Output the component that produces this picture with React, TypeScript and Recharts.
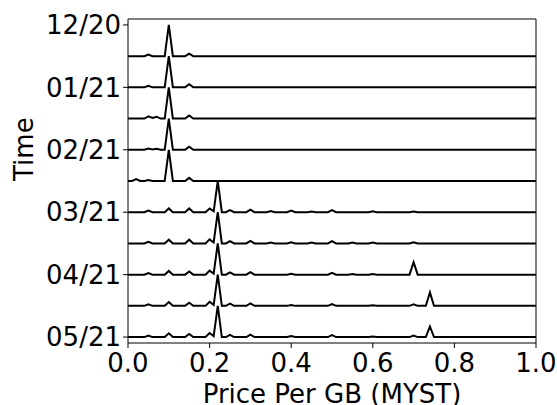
import {
  LineChart,
  Line,
  XAxis,
  YAxis,
  ReferenceArea,
} from "recharts";

// price-per-GB density curves, one per half month, newest last.
// each point is [price (MYST), relative density], peak normalised to 1
const month1a: [number, number][] = [
  [0, 0], [0.04, 0], [0.05, 0.05], [0.06, 0], [0.09, 0], [0.1, 1.0],
  [0.11, 0], [0.14, 0], [0.15, 0.08], [0.16, 0], [1, 0],
];
const month1b: [number, number][] = [
  [0, 0], [0.04, 0], [0.05, 0.05], [0.06, 0], [0.09, 0], [0.1, 1.0],
  [0.11, 0], [0.14, 0], [0.15, 0.1], [0.16, 0], [1, 0],
];
const month2a: [number, number][] = [
  [0, 0], [0.04, 0], [0.05, 0.07], [0.06, 0.02], [0.07, 0.06], [0.08, 0],
  [0.09, 0], [0.1, 1.0], [0.11, 0], [0.14, 0], [0.15, 0.1], [0.16, 0], [1, 0],
];
const month2b: [number, number][] = [
  [0, 0], [0.04, 0], [0.05, 0.04], [0.06, 0.01], [0.07, 0.03], [0.08, 0],
  [0.09, 0], [0.1, 1.0], [0.11, 0], [0.14, 0], [0.15, 0.1], [0.16, 0], [1, 0],
];
const month3a: [number, number][] = [
  [0, 0], [0.01, 0], [0.02, 0.06], [0.03, 0], [0.04, 0], [0.05, 0.03],
  [0.06, 0], [0.09, 0], [0.1, 1.0], [0.11, 0], [0.14, 0], [0.15, 0.1],
  [0.16, 0], [1, 0],
];
const month3b: [number, number][] = [
  [0, 0], [0.04, 0], [0.05, 0.05], [0.06, 0], [0.09, 0], [0.1, 0.12],
  [0.11, 0], [0.14, 0], [0.15, 0.12], [0.16, 0], [0.19, 0], [0.2, 0.12],
  [0.21, 0.03], [0.22, 1.0], [0.23, 0], [0.24, 0], [0.25, 0.07], [0.26, 0],
  [0.29, 0], [0.3, 0.08], [0.31, 0], [0.34, 0], [0.35, 0.04], [0.36, 0],
  [0.39, 0], [0.4, 0.05], [0.41, 0], [0.44, 0], [0.45, 0.02], [0.46, 0],
  [0.49, 0], [0.5, 0.07], [0.51, 0], [0.59, 0], [0.6, 0.03], [0.61, 0],
  [0.69, 0], [0.7, 0.02], [0.71, 0], [1, 0],
];
const month4a: [number, number][] = [
  [0, 0], [0.04, 0], [0.05, 0.05], [0.06, 0], [0.09, 0], [0.1, 0.12],
  [0.11, 0], [0.14, 0], [0.15, 0.12], [0.16, 0], [0.19, 0], [0.2, 0.13],
  [0.21, 0.03], [0.22, 1.0], [0.23, 0], [0.24, 0], [0.25, 0.07], [0.26, 0],
  [0.29, 0], [0.3, 0.08], [0.31, 0], [0.34, 0], [0.35, 0.03], [0.36, 0],
  [0.39, 0], [0.4, 0.04], [0.41, 0], [0.44, 0], [0.45, 0.03], [0.46, 0],
  [0.49, 0], [0.5, 0.07], [0.51, 0], [0.54, 0], [0.55, 0.03], [0.56, 0],
  [0.59, 0], [0.6, 0.03], [0.61, 0], [0.69, 0], [0.7, 0.04], [0.71, 0],
  [1, 0],
];
const month4b: [number, number][] = [
  [0, 0], [0.04, 0], [0.05, 0.05], [0.06, 0], [0.09, 0], [0.1, 0.12],
  [0.11, 0], [0.14, 0], [0.15, 0.1], [0.16, 0], [0.19, 0], [0.2, 0.13],
  [0.21, 0.03], [0.22, 1.0], [0.23, 0], [0.24, 0], [0.25, 0.07], [0.26, 0],
  [0.29, 0], [0.3, 0.08], [0.31, 0], [0.39, 0], [0.4, 0.03], [0.41, 0],
  [0.49, 0], [0.5, 0.06], [0.51, 0], [0.54, 0], [0.55, 0.02], [0.56, 0],
  [0.59, 0], [0.6, 0.02], [0.61, 0], [0.69, 0], [0.7, 0.4], [0.71, 0],
  [1, 0],
];
const month5a: [number, number][] = [
  [0, 0], [0.04, 0], [0.05, 0.05], [0.06, 0], [0.09, 0], [0.1, 0.12],
  [0.11, 0], [0.14, 0], [0.15, 0.1], [0.16, 0], [0.19, 0], [0.2, 0.13],
  [0.21, 0.03], [0.22, 1.0], [0.23, 0], [0.24, 0], [0.25, 0.07], [0.26, 0],
  [0.29, 0], [0.3, 0.08], [0.31, 0], [0.39, 0], [0.4, 0.03], [0.41, 0],
  [0.49, 0], [0.5, 0.06], [0.51, 0], [0.59, 0], [0.6, 0.02], [0.61, 0],
  [0.69, 0], [0.7, 0.05], [0.71, 0], [0.73, 0], [0.74, 0.43], [0.75, 0],
  [1, 0],
];
const month5b: [number, number][] = [
  [0, 0], [0.04, 0], [0.05, 0.05], [0.06, 0], [0.09, 0], [0.1, 0.12],
  [0.11, 0], [0.14, 0], [0.15, 0.1], [0.16, 0], [0.19, 0], [0.2, 0.13],
  [0.21, 0.03], [0.22, 1.0], [0.23, 0], [0.24, 0], [0.25, 0.07], [0.26, 0],
  [0.29, 0], [0.3, 0.08], [0.31, 0], [0.39, 0], [0.4, 0.03], [0.41, 0],
  [0.49, 0], [0.5, 0.06], [0.51, 0], [0.59, 0], [0.6, 0.02], [0.61, 0],
  [0.69, 0], [0.7, 0.05], [0.71, 0], [0.73, 0], [0.74, 0.34], [0.75, 0],
  [1, 0],
];

const rows = [
  month1a, month1b, month2a, month2b, month3a,
  month3b, month4a, month4b, month5a, month5b,
];

const timeLabels = ["12/20", "01/21", "02/21", "03/21", "04/21", "05/21"];
const timeTicks = [10, 8, 6, 4, 2, 0];
const priceTicks = [0, 0.2, 0.4, 0.6, 0.8, 1.0];

const Y_MIN = -0.19;
const Y_MAX = 10.19;
const FONT = "DejaVu Sans, sans-serif";
const FONT_SIZE = 26;

// stack the rows: first row sits highest, one unit apart
const series = rows.map((pts, i) =>
  pts.map(([x, d]) => ({ x, y: rows.length - 1 - i + d }))
);

const App = () => {
  return (
    <div style={{ position: "absolute", left: 0, top: 0, background: "#fff" }}>
      <LineChart
        width={557}
        height={405}
        margin={{ top: 19, right: 21, bottom: 0, left: 0 }}
      >
        <XAxis
          type="number"
          dataKey="x"
          domain={[0, 1]}
          ticks={priceTicks}
          tickFormatter={(v: number) => v.toFixed(1)}
          allowDuplicatedCategory={false}
          height={62}
          axisLine={false}
          tickLine={{ stroke: "#000", strokeWidth: 1 }}
          tickSize={5}
          tick={{ fill: "#000", fontSize: FONT_SIZE, fontFamily: FONT, dy: 4 }}
          label={{
            value: "Price Per GB (MYST)",
            position: "insideBottom",
            offset: 2,
            fill: "#000",
            fontSize: FONT_SIZE,
            fontFamily: FONT,
          }}
        />
        <YAxis
          type="number"
          dataKey="y"
          domain={[Y_MIN, Y_MAX]}
          ticks={timeTicks}
          tickFormatter={(v: number) => timeLabels[timeTicks.indexOf(v)]}
          width={128}
          axisLine={false}
          tickLine={{ stroke: "#000", strokeWidth: 1 }}
          tickSize={5}
          tick={{ fill: "#000", fontSize: FONT_SIZE, fontFamily: FONT }}
          label={{
            value: "Time",
            angle: -90,
            position: "insideLeft",
            offset: 24,
            fill: "#000",
            fontSize: FONT_SIZE,
            fontFamily: FONT,
          }}
        />
        <ReferenceArea
          x1={0}
          x2={1}
          y1={Y_MIN}
          y2={Y_MAX}
          fill="none"
          stroke="#000"
          strokeWidth={1}
          ifOverflow="visible"
        />
        {series.map((data, i) => (
          <Line
            key={i}
            data={data}
            dataKey="y"
            type="linear"
            stroke="#000"
            strokeWidth={2}
            dot={false}
            isAnimationActive={false}
          />
        ))}
      </LineChart>
    </div>
  );
};

export default App;
